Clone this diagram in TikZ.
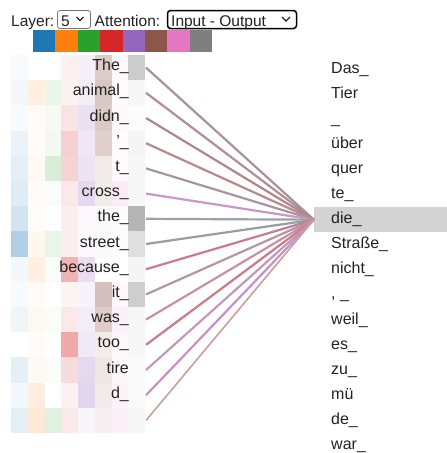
\documentclass[tikz,border=0pt]{standalone}
\usepackage{fontspec}
\setmainfont{Liberation Sans}
\definecolor{hc0}{HTML}{1F77B4}
\definecolor{hc1}{HTML}{FF7F0E}
\definecolor{hc2}{HTML}{2CA02C}
\definecolor{hc3}{HTML}{D62728}
\definecolor{hc4}{HTML}{9467BD}
\definecolor{hc5}{HTML}{8C564B}
\definecolor{hc6}{HTML}{E377C2}
\definecolor{hc7}{HTML}{7F7F7F}
\definecolor{ln0}{HTML}{A8929A}
\definecolor{ln1}{HTML}{B08E94}
\definecolor{ln2}{HTML}{B0868A}
\definecolor{ln3}{HTML}{B8898C}
\definecolor{ln4}{HTML}{A8949C}
\definecolor{ln5}{HTML}{C898C8}
\definecolor{ln6}{HTML}{A0A0A8}
\definecolor{ln7}{HTML}{959FA3}
\definecolor{ln8}{HTML}{C87A96}
\definecolor{ln9}{HTML}{B0989C}
\definecolor{ln10}{HTML}{C890A8}
\definecolor{ln11}{HTML}{CC7A88}
\definecolor{ln12}{HTML}{C09AB8}
\definecolor{ln13}{HTML}{C890C4}
\definecolor{ln14}{HTML}{C8A09A}
\definecolor{selgray}{HTML}{767676}
\definecolor{hilite}{HTML}{D3D3D3}
\definecolor{txt}{HTML}{222222}
\tikzset{
  tok/.style={inner sep=0pt, font=\fontsize{16}{19}\selectfont, text=txt},
  hdr/.style={inner sep=0pt, font=\fontsize{15.5}{18}\selectfont, text=txt},
  attn/.style={line width=2.2pt},
}
\begin{document}
\begin{tikzpicture}[x=1pt,y=-1pt]
\useasboundingbox (0,0) rectangle (447,453);
% header
\node[hdr, anchor=base west] (layerlbl) at (11,26) {Layer:};
\draw[selgray, line width=0.8pt, rounded corners=2.5pt] (57.5,10.5) rectangle (90.5,28.5);
\node[hdr, anchor=base west] (layerval) at (61,26) {5};
\draw[txt, line width=1.3pt] (76.5,17) -- (80,20.5) -- (83.5,17);
\node[hdr, anchor=base west] (attnlbl) at (94.5,26) {Attention:};
\draw[black, line width=1.5pt, rounded corners=3pt] (167.5,10.5) rectangle (296.5,28.5);
\node[hdr, anchor=base west] (attnval) at (171,26) {Input - Output};
\draw[txt, line width=1.3pt] (282,17) -- (286,21) -- (290,17);
% colour bar
\foreach \c in {0,...,7} \fill[hc\c] ({33+22.4*\c},30) rectangle ++(22.4,22);
% heat map
\foreach \i/\vals in {
 0/{3,0,0,7,10,30,5,40},
 1/{6,12,10,6,12,33,3,6},
 2/{3,3,5,13,20,31,6,2},
 3/{9,3,6,22,16,28,3,8},
 4/{12,5,18,20,18,12,4,6},
 5/{14,3,3,10,25,11,15,6},
 6/{20,2,0,8,4,4,3,58},
 7/{35,6,11,8,4,4,3,25},
 8/{5,12,3,35,22,0,0,8},
 9/{3,3,0,5,8,38,5,38},
 10/{7,5,3,10,12,30,10,6},
 11/{0,3,0,40,14,11,6,6},
 12/{12,5,3,16,25,14,7,4},
 13/{6,13,0,7,28,12,9,4},
 14/{12,17,15,10,6,9,10,6}}{
  \foreach \v [count=\c from 0] in \vals {
    \fill[hc\c!\v!white] ({11+16.75*\c},{55+25.2*\i}) rectangle ++(16.75,25.2);
  }
}
% left tokens
\foreach \i/\t in {0/The\_,1/animal\_,2/didn\_,3/'\_,4/t\_,5/cross\_,6/the\_,7/street\_,8/because\_,9/it\_,10/was\_,11/too\_,12/tire,13/d\_}{
  \node[tok, anchor=base east] (L\i) at (129,{70.7+25.2*\i}) {\t};
}
\foreach \i in {0,...,14} \coordinate (S\i) at (146,{67.6+25.2*\i});
% highlight
\node[fill=hilite, inner sep=0pt, minimum width=133pt, minimum height=25pt, anchor=north west] (hl) at (314,207) {};
% right tokens
\foreach \i/\t in {0/Das\_,1/Tier,2/\_,3/über,4/quer,5/te\_,6/die\_,7/Straße\_,8/nicht\_,9/{,\ \_},10/weil\_,11/es\_,12/zu\_,13/mü,14/de\_,15/war\_}{
  \node[tok, anchor=base west] (R\i) at (331,{73.5+25.05*\i}) {\t};
}
% attention lines
\foreach \i in {0,...,13} \draw[attn, ln\i] (S\i) -- (hl.west);
\draw[line width=1.6pt, ln14] (S14) -- (hl.west);
\end{tikzpicture}
\end{document}
